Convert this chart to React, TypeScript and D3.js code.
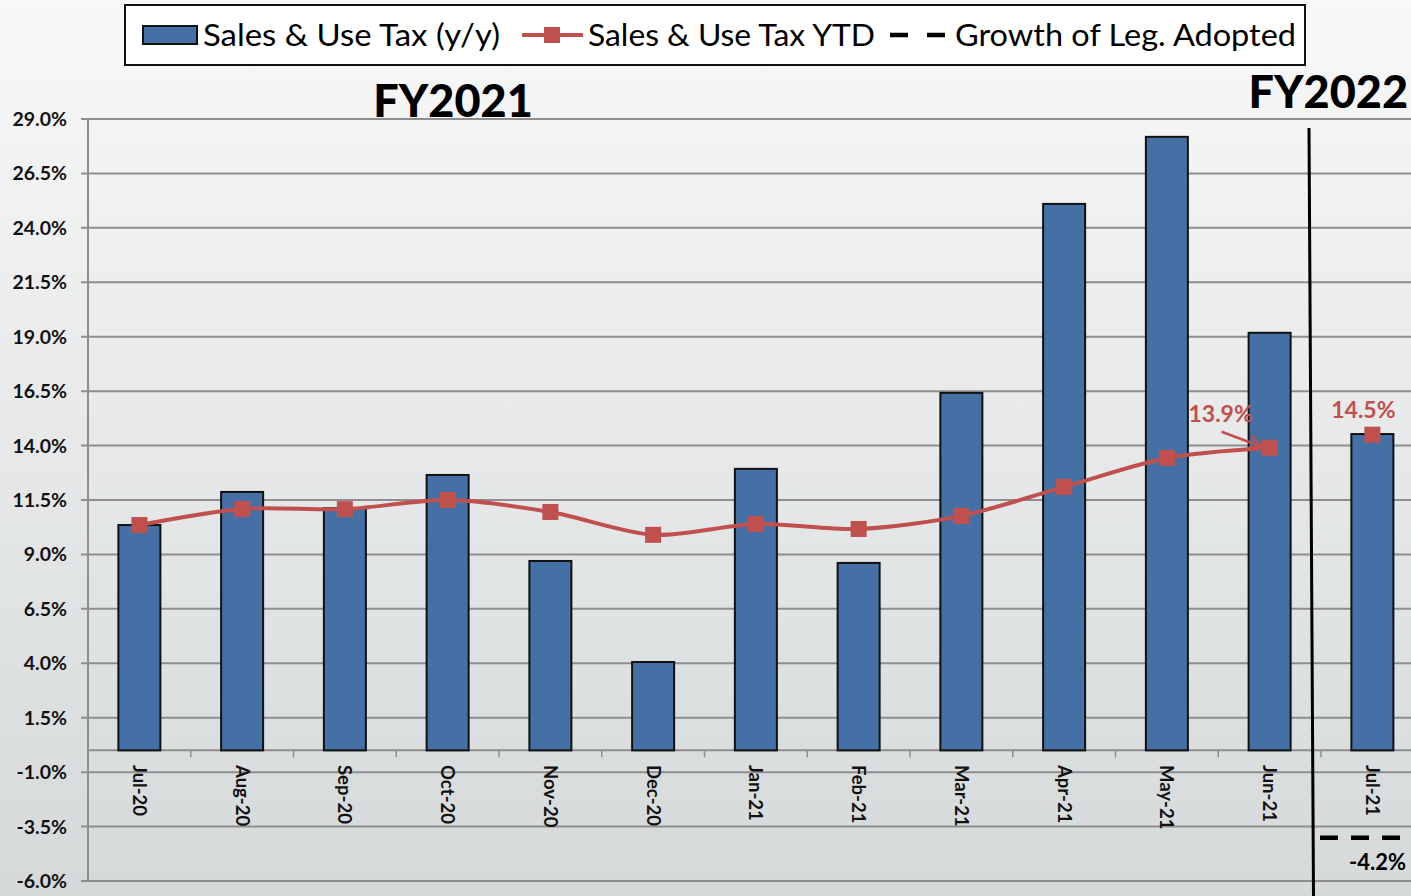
import React from "react";
import * as d3 from "d3";

const categories = ["Jul-20","Aug-20","Sep-20","Oct-20","Nov-20","Dec-20","Jan-21","Feb-21","Mar-21","Apr-21","May-21","Jun-21","Jul-21"];
const salesYY = [10.35, 11.87, 11.13, 12.65, 8.7, 4.06, 12.93, 8.61, 16.42, 25.1, 28.18, 19.18, 14.53];
const ytdCategories = ["Jul-20","Aug-20","Sep-20","Oct-20","Nov-20","Dec-20","Jan-21","Feb-21","Mar-21","Apr-21","May-21","Jun-21"];
const ytdValues = [10.35, 11.09, 11.08, 11.5, 10.95, 9.9, 10.4, 10.17, 10.77, 12.1, 13.43, 13.9];
const fy22Ytd = { cat: "Jul-21", value: 14.5 };
const legAdopted = { cat: "Jul-21", value: -4.2 };
const yTicks = [29.0, 26.5, 24.0, 21.5, 19.0, 16.5, 14.0, 11.5, 9.0, 6.5, 4.0, 1.5, -1.0, -3.5, -6.0];
const legendItems = ["Sales & Use Tax (y/y)", "Sales & Use Tax YTD", "Growth of Leg. Adopted"];

const W = 1411, H = 896;
const FONT = "Lato, 'Open Sans', sans-serif";
const BLUE = "#4470A6";
const RED = "#C0504D";

export default function App() {
  const y = d3.scaleLinear().domain([-6, 29]).range([881, 119]);
  const x = d3.scaleBand<string>().domain(categories).range([88, 1423.75]).padding(0);
  const bw = x.bandwidth();
  const barW = 42;
  const cx = (c: string) => (x(c) as number) + bw / 2;
  const line = d3.line<number>()
    .x((_, i) => cx(ytdCategories[i]))
    .y((d) => y(d))
    .curve(d3.curveCardinal.tension(0.15));
  const locale = d3.formatLocale({ decimal: ".", thousands: ",", grouping: [3], currency: ["$", ""], minus: "-" });
  const fmt = locale.format(".1f");

  const lastI = ytdValues.length - 1;
  const jx = cx(ytdCategories[lastI]);
  const jy = y(ytdValues[lastI]);
  const arrowEnd: [number, number] = [jx - 8, jy - 1];
  const arrowStart: [number, number] = [arrowEnd[0] - 40, arrowEnd[1] - 15];

  const legX0 = x(legAdopted.cat) as number;
  const legY = y(legAdopted.value);

  return (
    <div style={{ position: "fixed", left: 0, top: 0 }}>
      <svg width={W} height={H} style={{ display: "block" }}>
        <defs>
          <linearGradient id="bg" x1="0" y1="0" x2="0" y2="1">
            <stop offset="0" stopColor="#f8f8f8" />
            <stop offset="1" stopColor="#d5d9da" />
          </linearGradient>
        </defs>
        <rect x={0} y={0} width={W} height={H} fill="url(#bg)" />

        {/* gridlines and y labels */}
        {yTicks.map((t) => (
          <g key={t}>
            <line x1={81} x2={W} y1={y(t)} y2={y(t)} stroke="#8e8e8e" strokeWidth={2} />
            <text x={67} y={y(t) + 7} textAnchor="end" fontFamily={FONT} fontWeight={700} fontSize={19.5} fill="#111">
              {fmt(t) + "%"}
            </text>
          </g>
        ))}
        <line x1={88} x2={88} y1={119} y2={881} stroke="#8e8e8e" strokeWidth={2} />

        {/* category axis */}
        <line x1={88} x2={W} y1={y(0)} y2={y(0)} stroke="#8e8e8e" strokeWidth={2} />
        {categories.map((c) => (
          <line key={"t" + c} x1={(x(c) as number)} x2={(x(c) as number)} y1={y(0)} y2={y(0) + 7} stroke="#8e8e8e" strokeWidth={1.5} />
        ))}

        {/* bars */}
        {categories.map((c, i) => (
          <rect key={c} x={cx(c) - barW / 2} y={y(salesYY[i])} width={barW} height={y(0) - y(salesYY[i])}
            fill={BLUE} stroke="#111" strokeWidth={2} />
        ))}

        {/* category labels */}
        {categories.map((c) => (
          <text key={"l" + c} transform={`translate(${cx(c) - 6.5},${765}) rotate(90)`} textAnchor="start"
            fontFamily={FONT} fontWeight={700} fontSize={18.5} fill="#111">{c}</text>
        ))}

        {/* YTD line */}
        <path d={line(ytdValues) as string} fill="none" stroke={RED} strokeWidth={4} />
        {ytdValues.map((v, i) => (
          <rect key={"m" + i} x={cx(ytdCategories[i]) - 8} y={y(v) - 8} width={16} height={16} fill={RED} />
        ))}
        <rect x={cx(fy22Ytd.cat) - 8} y={y(fy22Ytd.value) - 8} width={16} height={16} fill={RED} />

        {/* data labels */}
        <text x={jx - 49} y={jy - 26} textAnchor="middle" fontFamily={FONT} fontWeight={700} fontSize={23} fill={RED}>
          {fmt(ytdValues[lastI]) + "%"}
        </text>
        <line x1={arrowStart[0]} y1={arrowStart[1]} x2={arrowEnd[0]} y2={arrowEnd[1]} stroke={RED} strokeWidth={2.5} />
        <path d={`M${arrowEnd[0] - 10},${arrowEnd[1] - 11} L${arrowEnd[0]},${arrowEnd[1]} L${arrowEnd[0] - 13},${arrowEnd[1] + 1}`}
          fill="none" stroke={RED} strokeWidth={2.5} />
        <text x={cx(fy22Ytd.cat) - 9} y={y(fy22Ytd.value) - 17} textAnchor="middle" fontFamily={FONT} fontWeight={700} fontSize={23} fill={RED}>
          {fmt(fy22Ytd.value) + "%"}
        </text>

        {/* Growth of Leg. Adopted */}
        <line x1={legX0 - 1} x2={legX0 + 79} y1={legY - 4} y2={legY - 4} stroke="#000" strokeWidth={4.5} strokeDasharray="18 13" />
        <text x={1406} y={870} textAnchor="end" fontFamily={FONT} fontWeight={700} fontSize={22} fill="#000">
          {fmt(legAdopted.value) + "%"}
        </text>

        {/* FY separator */}
        <line x1={1309} y1={128} x2={1313.5} y2={H} stroke="#000" strokeWidth={3} />

        {/* FY titles */}
        <text x={453} y={117} textAnchor="middle" fontFamily={FONT} fontWeight={900} fontSize={45} fill="#000">FY2021</text>
        <text x={1408} y={108} textAnchor="end" fontFamily={FONT} fontWeight={900} fontSize={45} fill="#000">FY2022</text>

        {/* legend */}
        <rect x={125} y={5} width={1180} height={60} fill="#fff" stroke="#111" strokeWidth={2} />
        <rect x={143} y={26} width={54} height={18} fill={BLUE} stroke="#111" strokeWidth={2} />
        <text x={203} y={46} fontFamily={FONT} fontSize={31} fill="#000" textLength={297} lengthAdjust="spacingAndGlyphs">{legendItems[0]}</text>
        <line x1={522} x2={583} y1={35} y2={35} stroke={RED} strokeWidth={4} />
        <rect x={544} y={27} width={16} height={16} fill={RED} />
        <text x={588} y={46} fontFamily={FONT} fontSize={31} fill="#000" textLength={287} lengthAdjust="spacingAndGlyphs">{legendItems[1]}</text>
        <line x1={890} x2={945} y1={35} y2={35} stroke="#000" strokeWidth={4.5} strokeDasharray="18 19" />
        <text x={955} y={46} fontFamily={FONT} fontSize={31} fill="#000" textLength={341} lengthAdjust="spacingAndGlyphs">{legendItems[2]}</text>
      </svg>
    </div>
  );
}
